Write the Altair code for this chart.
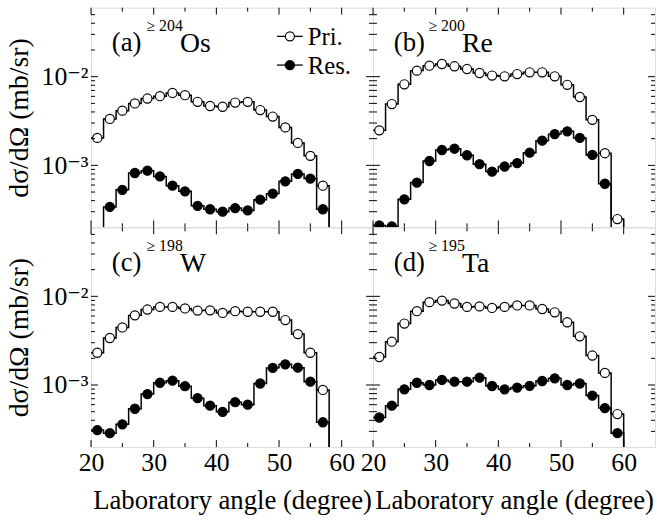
import altair as alt
import pandas as pd

FONT = "'Liberation Serif', 'Times New Roman', 'DejaVu Serif', serif"

angles = [21, 23, 25, 27, 29, 31, 33, 35, 37, 39, 41, 43, 45, 47, 49, 51, 53, 55, 57, 59]

a_pri = [2.04e-3, 3.34e-3, 4.14e-3, 4.99e-3, 5.67e-3, 6.03e-3, 6.56e-3, 6.18e-3, 5.21e-3, 4.67e-3,
         4.58e-3, 5.11e-3, 5.20e-3, 4.20e-3, 3.55e-3, 2.68e-3, 1.79e-3, 1.28e-3, 5.9e-4, None]
a_res = [None, 3.4e-4, 5.3e-4, 8.2e-4, 8.7e-4, 7.5e-4, 5.9e-4, 5.1e-4, 3.5e-4, 3.2e-4,
         3.0e-4, 3.3e-4, 3.1e-4, 4.1e-4, 4.8e-4, 6.6e-4, 8.0e-4, 7.1e-4, 3.2e-4, None]
b_pri = [2.48e-3, 4.91e-3, 8.2e-3, 1.17e-2, 1.33e-2, 1.39e-2, 1.31e-2, 1.22e-2, 1.10e-2, 1.03e-2,
         1.01e-2, 1.07e-2, 1.12e-2, 1.12e-2, 1.01e-2, 8.1e-3, 5.9e-3, 3.26e-3, 1.37e-3, 2.48e-4]
b_res = [2.1e-4, 2.05e-4, 4.14e-4, 6.4e-4, 1.12e-3, 1.49e-3, 1.54e-3, 1.30e-3, 1.03e-3, 8.5e-4,
         9.7e-4, 1.06e-3, 1.39e-3, 1.90e-3, 2.25e-3, 2.42e-3, 2.04e-3, 1.31e-3, 6.2e-4, None]
c_pri = [2.31e-3, 3.39e-3, 4.46e-3, 6.1e-3, 7.1e-3, 7.6e-3, 7.6e-3, 7.3e-3, 6.9e-3, 6.95e-3,
         6.5e-3, 6.8e-3, 6.7e-3, 6.7e-3, 6.7e-3, 5.4e-3, 3.75e-3, 2.31e-3, 8.8e-4, None]
c_res = [3.1e-4, 2.86e-4, 3.6e-4, 5.4e-4, 7.9e-4, 1.06e-3, 1.12e-3, 9.7e-4, 7.1e-4, 5.85e-4,
         4.98e-4, 6.4e-4, 6.0e-4, 1.04e-3, 1.56e-3, 1.71e-3, 1.57e-3, 1.09e-3, 3.8e-4, None]
d_pri = [2.07e-3, 3.08e-3, 4.93e-3, 6.8e-3, 8.6e-3, 8.95e-3, 8.3e-3, 7.6e-3, 7.7e-3, 7.4e-3,
         7.6e-3, 7.9e-3, 7.9e-3, 7.2e-3, 6.6e-3, 5.1e-3, 3.54e-3, 2.15e-3, 1.37e-3, 4.7e-4]
d_res = [4.3e-4, 5.85e-4, 8.95e-4, 1.06e-3, 1.0e-3, 1.14e-3, 1.09e-3, 1.09e-3, 1.21e-3, 9.75e-4,
         8.95e-4, 9.35e-4, 9.8e-4, 1.11e-3, 1.19e-3, 1.0e-3, 1.04e-3, 7.6e-4, 5.5e-4, 2.86e-4]

series_names = ["Pri.", "Res."]
panel_tags = ["(a)", "(b)", "(c)", "(d)"]
panel_sups = ["\u2265 204", "\u2265 200", "\u2265 198", "\u2265 195"]
panel_elems = ["Os", "Re", "W", "Ta"]

x_major = [20, 30, 40, 50, 60]
x_minor = [25, 35, 45, 55]
y_major = [1e-3, 1e-2]
y_minor = [3e-4, 4e-4, 5e-4, 6e-4, 7e-4, 8e-4, 9e-4,
           2e-3, 3e-3, 4e-3, 5e-3, 6e-3, 7e-3, 8e-3, 9e-3,
           2e-2, 3e-2, 4e-2, 5e-2]

X_DOMAIN = [20, 65]
Y_DOMAIN = [2e-4, 6e-2]
FLOOR = 1e-6  # below the plotted range: the histogram drops to the axis

W, H = 285, 222
MAJ, MIN = 7, 4

xscale = alt.Scale(domain=X_DOMAIN, nice=False, zero=False)
yscale = alt.Scale(type="log", domain=Y_DOMAIN, nice=False)


def step_frame(vals, name):
    rows = []
    for a, v in zip(angles, vals):
        rows.append({"x": a - 1, "y": v if v is not None else FLOOR, "s": name})
    rows.append({"x": angles[-1] + 1, "y": FLOOR, "s": name})
    return rows


def point_frame(vals, name):
    return [{"x": a, "y": v, "s": name} for a, v in zip(angles, vals) if v is not None]


def panel(pri, res, idx, show_x, show_y, legend=False):
    if show_x:
        xaxis = alt.Axis(values=x_major, ticks=False, domain=False, grid=False, labelFlush=False,
                         labelFont=FONT, labelFontSize=26, labelPadding=3, labelColor="black",
                         title="Laboratory angle (degree)", titleFont=FONT, titleFontSize=27,
                         titleFontWeight="normal", titleColor="black", titlePadding=12)
    else:
        xaxis = None
    if show_y:
        yaxis = alt.Axis(values=y_major, ticks=False, domain=False, grid=False, labelFlush=False,
                         labelExpr="datum.value < 0.005 ? '10\u207b\u00b3' : '10\u207b\u00b2'",
                         labelFont=FONT, labelFontSize=26, labelPadding=3, labelColor="black",
                         title="d\u03c3/d\u03a9 (mb/sr)", titleFont=FONT, titleFontSize=28,
                         titleFontWeight="normal", titleColor="black", titlePadding=8)
    else:
        yaxis = None
    X = alt.X("x:Q", scale=xscale, axis=xaxis)
    Y = alt.Y("y:Q", scale=yscale, axis=yaxis)

    steps_df = pd.DataFrame(step_frame(pri, "Pri.") + step_frame(res, "Res."))
    pts_df = pd.DataFrame(point_frame(pri, "Pri.") + point_frame(res, "Res."))

    steps = alt.Chart(steps_df).mark_line(
        interpolate="step-after", color="black", strokeWidth=1.5, clip=True
    ).encode(x=X, y=Y, detail="s:N")
    pts = alt.Chart(pts_df).mark_point(
        shape="circle", filled=True, size=85, stroke="black", strokeWidth=1.2, opacity=1, clip=True
    ).encode(
        x=X, y=Y,
        fill=alt.Fill("s:N", scale=alt.Scale(domain=series_names, range=["white", "black"]), legend=None),
    )

    def xt(vals, length, top):
        df = pd.DataFrame({"x": vals})
        if top:
            return alt.Chart(df).mark_rule(color="black", strokeWidth=1).encode(
                x=X, y=alt.value(0), y2=alt.value(length))
        return alt.Chart(df).mark_rule(color="black", strokeWidth=1).encode(
            x=X, y=alt.value(H), y2=alt.value(H - length))

    def yt(vals, length, right):
        df = pd.DataFrame({"y": vals})
        if right:
            return alt.Chart(df).mark_rule(color="black", strokeWidth=1).encode(
                y=Y, x=alt.value(W), x2=alt.value(W - length))
        return alt.Chart(df).mark_rule(color="black", strokeWidth=1).encode(
            y=Y, x=alt.value(0), x2=alt.value(length))

    ticks = [xt(x_major, MAJ, False), xt(x_minor, MIN, False), xt(x_major, MAJ, True), xt(x_minor, MIN, True),
             yt(y_major, MAJ, False), yt(y_minor, MIN, False), yt(y_major, MAJ, True), yt(y_minor, MIN, True)]

    one = pd.DataFrame({"k": [0]})
    base_y = 44
    tag = alt.Chart(one).mark_text(text=panel_tags[idx], font=FONT, fontSize=27, align="left",
                                   baseline="alphabetic", color="black").encode(
        x=alt.value(21), y=alt.value(base_y))
    sup = alt.Chart(one).mark_text(text=panel_sups[idx], font=FONT, fontSize=16, align="left",
                                   baseline="alphabetic", color="black").encode(
        x=alt.value(56), y=alt.value(base_y - 20))
    elem = alt.Chart(one).mark_text(text=panel_elems[idx], font=FONT, fontSize=28, align="left",
                                    baseline="alphabetic", color="black").encode(
        x=alt.value(90), y=alt.value(base_y + 1))

    layers = [steps, pts] + ticks + [tag, sup, elem]

    if legend:
        for name, fill, ly in [("Pri.", "white", 29), ("Res.", "black", 58)]:
            layers.append(alt.Chart(one).mark_rule(color="black", strokeWidth=1.3).encode(
                x=alt.value(188), x2=alt.value(214), y=alt.value(ly)))
            layers.append(alt.Chart(one).mark_point(shape="circle", filled=True, fill=fill, size=85,
                                                    stroke="black", strokeWidth=1.2, opacity=1).encode(
                x=alt.value(201), y=alt.value(ly)))
            layers.append(alt.Chart(one).mark_text(text=name, font=FONT, fontSize=25, align="left",
                                                   baseline="middle", color="black").encode(
                x=alt.value(219), y=alt.value(ly + 1)))

    return alt.layer(*layers).properties(width=W, height=H)


pa = panel(a_pri, a_res, 0, show_x=False, show_y=True, legend=True)
pb = panel(b_pri, b_res, 1, show_x=False, show_y=False)
pc = panel(c_pri, c_res, 2, show_x=True, show_y=True)
pd_ = panel(d_pri, d_res, 3, show_x=True, show_y=False)

chart = alt.concat(pa, pb, pc, pd_, columns=2, spacing=0, bounds="flush").properties(
    padding={"left": 4, "top": 4, "right": 0, "bottom": 0}
).configure_view(stroke="black", strokeWidth=1.2).configure(background="white")

chart.save("out.html", embed_options={"renderer": "svg", "actions": False})
